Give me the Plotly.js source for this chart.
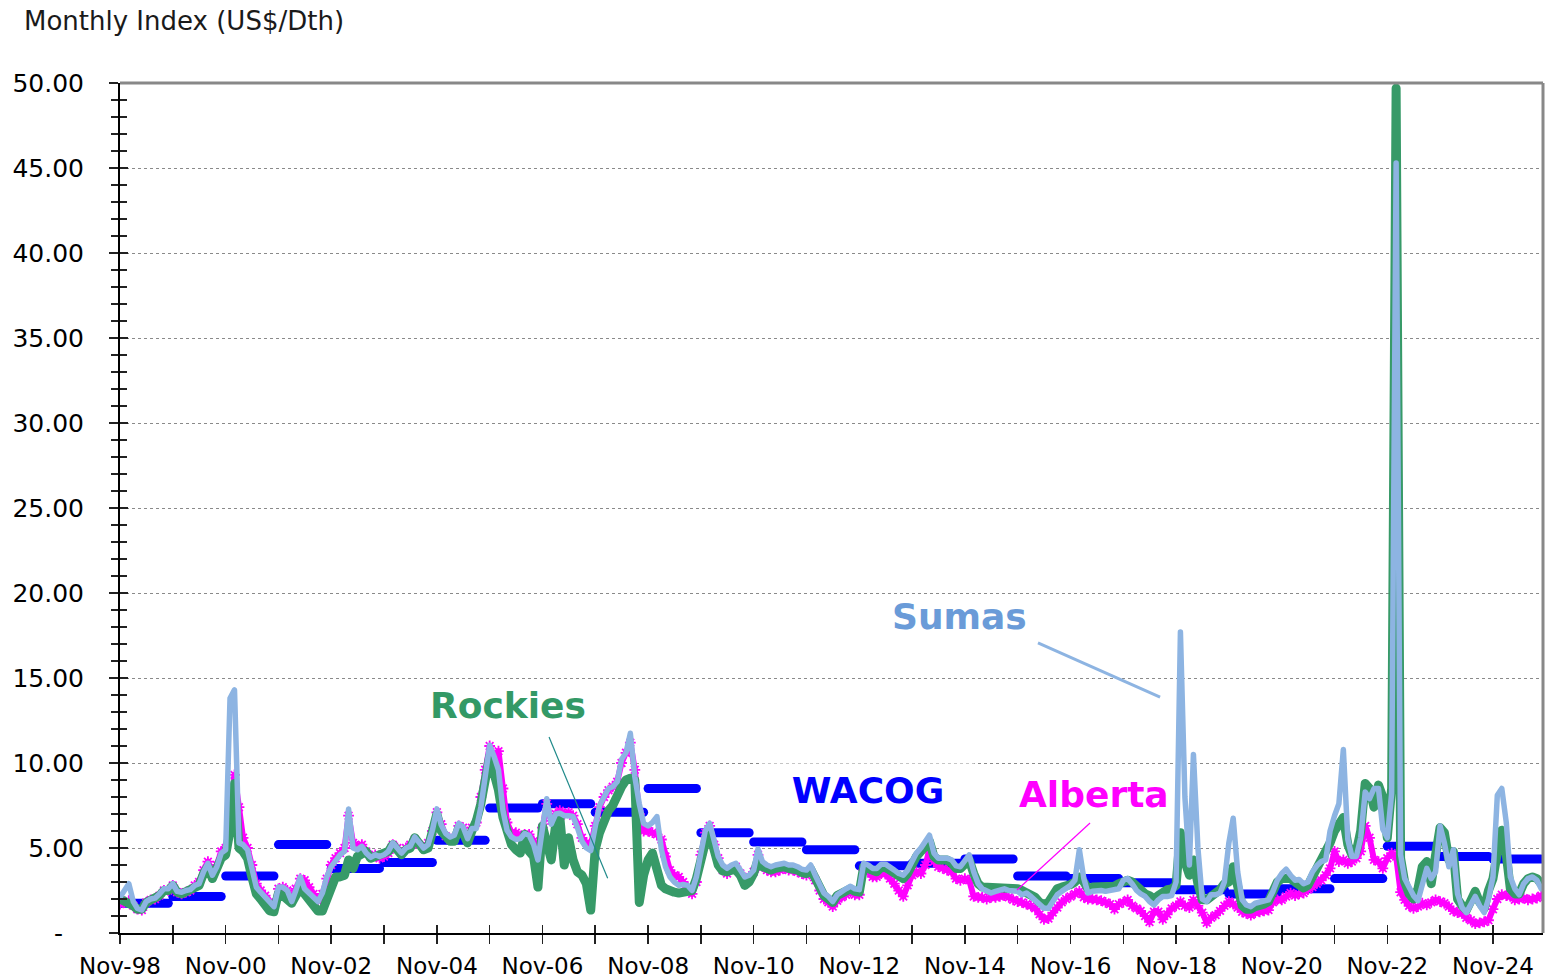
<!DOCTYPE html>
<html><head><meta charset="utf-8">
<script src="https://cdn.plot.ly/plotly-3.0.1.min.js"></script>
<style>
html,body{margin:0;padding:0;background:#fff;}
#chart{width:1557px;height:980px;}
.js-line{stroke-linecap:round !important;stroke-linejoin:round !important;}
</style></head><body><div id="chart"></div><script>
// Monthly index, US$/Dth, Nov-98 .. Oct-25 (one row = Nov..Oct)
const sumas = [
2.1,2.5,2.9,1.85,1.45,1.35,1.85,2.0,2.05,2.3,2.6,2.6,
2.9,2.45,2.4,2.5,2.55,2.8,2.9,3.6,4.1,3.4,3.9,4.7,
4.9,13.8,14.3,5.3,5.2,4.9,3.9,2.7,2.4,2.1,1.75,1.55,
2.7,2.7,2.5,1.85,2.5,3.3,2.6,2.35,2.05,1.85,2.35,3.3,
3.9,4.3,4.6,4.8,7.3,5.0,4.9,5.1,4.7,4.45,4.6,4.5,
4.6,4.8,5.3,5.0,4.7,5.0,5.1,5.65,5.3,5.0,5.2,6.05,
7.3,6.35,5.85,5.65,5.75,6.45,6.25,5.55,6.15,6.15,7.4,9.2,
11.05,10.4,9.6,7.2,6.05,5.65,5.5,5.55,5.85,5.75,5.2,4.3,
6.0,7.9,6.4,7.0,7.05,6.9,6.9,6.85,6.2,5.4,5.0,4.85,
6.25,7.5,8.0,8.5,8.6,8.9,10.2,10.6,11.75,9.2,7.6,6.45,
6.3,6.5,6.85,4.9,3.9,3.3,3.0,2.8,2.85,2.8,2.5,3.3,
4.7,6.0,6.45,5.3,4.5,4.0,3.8,4.0,4.1,3.7,3.3,3.4,
3.7,4.95,4.2,4.0,3.9,4.0,4.05,4.1,4.0,4.0,3.9,3.75,
3.7,4.0,3.4,2.8,2.35,2.15,1.85,2.25,2.45,2.6,2.75,2.6,
2.55,4.1,4.0,3.8,3.8,4.05,4.05,3.9,3.7,3.5,3.4,3.7,
4.3,4.7,5.0,5.4,5.75,4.7,4.4,4.4,4.4,4.3,3.95,3.9,
4.2,4.6,3.6,2.9,2.6,2.5,2.35,2.45,2.5,2.6,2.5,2.45,
2.45,2.25,2.35,2.15,1.95,1.65,1.45,1.45,1.85,2.25,2.45,2.6,
2.8,3.1,4.9,3.2,2.35,2.45,2.5,2.5,2.45,2.5,2.5,2.6,
3.1,3.2,2.9,2.5,2.3,2.15,1.85,1.65,1.95,2.15,2.15,2.2,
3.0,17.7,8.0,4.0,10.5,5.0,2.0,1.85,2.25,2.25,2.35,3.0,
5.3,6.75,3.6,1.95,1.65,1.55,1.75,1.8,1.85,1.95,2.45,3.1,
3.5,3.75,3.4,3.1,3.15,2.9,3.0,3.6,3.95,4.2,4.3,6.0,
6.9,7.6,10.8,5.5,4.5,4.5,5.6,8.3,7.9,8.5,8.5,6.1,
5.6,8.2,45.3,4.6,3.2,2.6,2.2,1.9,3.0,3.8,3.2,3.6,
6.3,5.3,3.9,4.9,2.3,1.5,1.2,1.7,2.15,1.6,1.2,2.0,
3.3,8.1,8.5,6.5,3.3,2.6,2.25,2.9,3.2,3.3,3.1,2.6
];
const rockies = [
2.0,1.9,1.8,1.6,1.4,1.4,1.8,1.9,2.0,2.2,2.5,2.5,
2.8,2.4,2.3,2.4,2.5,2.7,2.8,3.5,3.9,3.2,3.7,4.4,
4.6,6.0,8.8,5.0,4.8,4.4,3.3,2.3,2.0,1.7,1.3,1.25,
2.35,2.2,1.9,1.75,2.2,2.6,2.3,1.9,1.6,1.3,1.3,2.0,
2.9,3.3,3.3,3.4,4.3,3.8,4.5,4.7,4.8,4.4,4.5,4.6,
4.6,4.8,5.2,4.9,4.6,4.9,5.0,5.6,5.2,4.9,5.0,5.8,
7.0,6.0,5.6,5.4,5.4,6.2,5.9,5.3,6.0,6.6,7.6,9.0,
10.4,9.4,8.4,6.8,5.8,5.2,4.9,4.7,5.8,4.8,4.5,2.7,
6.3,5.5,4.3,6.4,6.85,4.0,5.6,4.3,3.6,3.4,2.9,1.35,
4.9,5.9,6.7,7.2,7.5,8.2,8.6,9.0,9.1,9.0,1.8,3.4,
4.3,4.7,3.6,2.8,2.6,2.45,2.4,2.35,2.4,2.5,2.5,3.2,
4.3,5.3,5.85,4.9,4.0,3.65,3.6,3.7,3.7,3.4,2.8,3.0,
3.5,4.3,3.9,3.8,3.7,3.8,3.85,3.9,3.8,3.8,3.7,3.55,
3.5,3.75,3.2,2.6,2.2,2.0,1.8,2.2,2.35,2.5,2.6,2.45,
2.4,3.9,3.8,3.6,3.6,3.85,3.85,3.7,3.5,3.3,3.2,3.5,
4.1,4.5,4.8,5.1,5.4,4.5,4.3,4.3,4.3,4.1,3.8,3.8,
4.0,4.3,3.5,2.9,2.7,2.7,2.6,2.65,2.7,2.7,2.65,2.6,
2.6,2.5,2.4,2.3,2.1,1.8,1.7,1.8,2.3,2.6,2.7,2.75,
2.85,3.0,3.3,3.0,2.6,2.7,2.7,2.75,2.75,2.7,2.75,2.9,
3.0,3.1,3.0,2.7,2.5,2.3,2.2,2.0,2.2,2.45,2.55,2.6,
2.8,5.9,4.2,3.4,4.3,2.9,1.95,1.95,2.1,2.3,2.55,2.9,
3.0,3.9,2.6,1.6,1.4,1.4,1.55,1.6,1.7,1.85,2.4,3.0,
3.2,3.2,3.2,3.0,2.8,2.65,2.8,3.3,3.7,4.1,4.6,5.3,
6.0,6.4,6.8,5.2,4.6,4.8,6.0,8.8,8.5,7.4,8.7,8.0,
5.6,8.5,49.7,4.4,3.0,2.3,2.0,2.6,3.9,4.2,2.9,4.6,
6.2,5.9,4.3,4.8,2.0,1.6,1.35,1.9,2.45,1.8,1.45,2.5,
3.2,4.7,6.05,4.6,2.6,2.3,2.3,2.9,3.2,3.3,3.2,2.9
];
const alberta = [
1.7,1.8,1.9,1.6,1.4,1.35,1.8,1.95,2.0,2.2,2.5,2.5,
2.8,2.4,2.3,2.4,2.5,2.8,3.0,3.7,4.2,3.6,4.0,4.8,
5.0,6.5,9.3,7.4,5.6,5.0,4.0,2.9,2.5,2.2,1.8,1.6,
2.6,2.7,2.5,2.0,2.6,3.2,3.1,2.7,2.3,1.9,2.3,3.2,
4.0,4.4,4.7,5.0,6.9,5.3,5.1,5.2,4.8,4.5,4.6,4.4,
4.5,4.7,5.2,5.0,4.7,5.0,5.2,5.5,5.2,5.0,5.3,6.0,
7.1,6.4,5.7,5.5,5.6,6.3,6.2,5.6,6.2,6.5,8.0,9.6,
11.0,10.4,10.7,8.5,6.5,5.9,5.9,5.7,5.8,5.8,5.4,4.6,
6.2,7.6,6.6,7.0,7.2,7.0,7.1,6.9,6.4,5.6,5.3,5.2,
6.3,7.4,8.0,8.4,8.6,8.9,10.0,10.6,11.2,9.6,7.0,6.0,
6.0,5.9,5.8,5.5,4.5,3.7,3.4,3.3,3.0,2.7,2.3,3.0,
4.6,5.9,6.3,5.2,4.4,3.7,3.5,3.8,3.9,3.5,3.1,3.3,
3.6,4.6,3.9,3.7,3.6,3.6,3.7,3.8,3.7,3.7,3.6,3.5,
3.4,3.6,3.1,2.5,2.0,1.8,1.55,1.9,2.1,2.25,2.4,2.25,
2.25,3.7,3.6,3.3,3.3,3.5,3.5,3.2,2.9,2.5,2.15,2.8,
3.4,3.6,3.5,4.0,4.9,4.2,3.9,3.8,3.7,3.6,3.2,3.1,
3.2,3.1,2.15,2.1,2.1,2.0,2.1,2.1,2.15,2.2,2.1,1.95,
1.85,1.8,1.7,1.6,1.45,1.1,0.8,0.85,1.2,1.5,1.8,2.0,
2.15,2.3,2.45,2.1,2.0,2.0,1.95,1.9,1.8,1.7,1.4,1.7,
1.8,1.95,1.6,1.45,1.3,1.0,0.65,1.25,1.25,0.8,1.1,1.45,
1.6,1.85,1.6,1.5,1.95,1.6,1.2,0.6,0.9,1.05,1.3,1.6,
1.85,1.7,1.5,1.25,1.15,1.05,1.2,1.25,1.3,1.35,1.8,1.95,
1.95,2.15,2.35,2.2,2.3,2.35,2.55,2.7,2.9,3.1,3.4,3.8,
4.8,4.2,4.3,4.1,4.2,4.4,4.8,6.3,5.6,4.3,4.2,3.8,
4.4,4.7,4.5,2.4,1.95,1.6,1.45,1.55,1.75,1.65,1.8,1.95,
1.85,1.75,1.55,1.3,1.2,1.15,0.9,0.75,0.55,0.6,0.65,0.75,
1.4,2.0,2.25,2.2,2.15,1.95,2.0,2.05,1.95,2.0,2.05,2.2
];
// WACOG, one value per gas year (Nov..Oct), 1998/99 .. 2024/25
const wacog = [1.75,2.15,3.35,5.2,3.8,4.15,5.45,7.35,7.6,7.1,8.5,5.9,5.35,4.9,3.95,4.1,4.35,3.35,3.2,2.95,2.55,2.3,2.6,3.2,5.1,4.5,4.35];

const startYear = 1998, startMonth = 11; // first month: Nov-98
const yTickVals = [0,5,10,15,20,25,30,35,40,45,50];
const yTickText = ['-\u00a0\u00a0\u2009','5.00','10.00','15.00','20.00','25.00','30.00','35.00','40.00','45.00','50.00'];

function monthDate(m){
  const t = (startMonth-1) + m;
  const y = startYear + Math.floor(t/12);
  const mo = t % 12 + 1;
  return y + '-' + String(mo).padStart(2,'0') + '-01';
}
const months = sumas.map((_,i)=>monthDate(i));
const wx = [], wy = [];
wacog.forEach((v,i)=>{ wx.push(monthDate(12*i), monthDate(12*i+11), null); wy.push(v, v, null); });

const FONT = 'DejaVu Sans, Verdana, sans-serif';
const C_SUMAS = '#8DB4E2', C_ROCK = '#379A68', C_ALB = '#FF00FF', C_WAC = '#0000FF';

const traces = [
  {x:wx, y:wy, mode:'lines', line:{color:C_WAC, width:9}, connectgaps:false, hoverinfo:'skip'},
  {x:months, y:alberta, mode:'lines+markers', line:{color:C_ALB, width:6},
   marker:{symbol:'asterisk-open', size:9, color:C_ALB, line:{color:C_ALB, width:1.8}}, hoverinfo:'skip'},
  {x:months, y:rockies, mode:'lines', line:{color:C_ROCK, width:9}, hoverinfo:'skip'},
  {x:months, y:sumas, mode:'lines', line:{color:C_SUMAS, width:5.5}, hoverinfo:'skip'},
  {x:[], y:[], xaxis:'x2', yaxis:'y2', mode:'lines', hoverinfo:'skip'}
];

const xRange = ['1998-11-01','2025-10-13'];
const tickCommon = {tickwidth:1.5, tickcolor:'#222'};
const layout = {
  width:1557, height:980,
  margin:{l:120, r:14, t:83, b:47},
  paper_bgcolor:'#fff', plot_bgcolor:'#fff', showlegend:false,
  xaxis:Object.assign({type:'date', range:xRange, tickformat:'%b-%y', tick0:'1998-11-01', dtick:'M24',
    ticks:'outside', ticklen:9,
    minor:{tick0:'1998-11-01', dtick:'M12', ticks:'outside', ticklen:9, tickwidth:1.5, tickcolor:'#222', showgrid:false},
    showgrid:false, zeroline:false, showline:true, linecolor:'#000', linewidth:2,
    tickfont:{family:FONT, size:23, color:'#000'}, ticklabelstandoff:2}, tickCommon),
  yaxis:Object.assign({range:[0,50], tickmode:'array', tickvals:yTickVals, ticktext:yTickText,
    ticks:'outside', ticklen:9,
    minor:{tick0:0, dtick:1, ticks:'outside', ticklen:7, tickwidth:1.3, tickcolor:'#222', showgrid:false},
    showgrid:true, gridcolor:'#8a8a8a', griddash:'dot', gridwidth:1, zeroline:false,
    showline:true, linecolor:'#000', linewidth:2,
    tickfont:{family:FONT, size:25, color:'#000'}, ticklabelstandoff:20}, tickCommon),
  xaxis2:Object.assign({type:'date', range:xRange, overlaying:'x', anchor:'y2', tick0:'1998-11-01', dtick:'M24',
    ticks:'inside', ticklen:8, showticklabels:false, showgrid:false, zeroline:false, showline:false,
    minor:{tick0:'1998-11-01', dtick:'M12', ticks:'inside', ticklen:8, tickwidth:1.5, tickcolor:'#222'}}, tickCommon),
  yaxis2:Object.assign({range:[0,50], overlaying:'y', anchor:'x2', side:'left', tickmode:'array', tickvals:yTickVals,
    ticks:'inside', ticklen:8, showticklabels:false, showgrid:false, zeroline:false, showline:false,
    minor:{tick0:0, dtick:1, ticks:'inside', ticklen:7, tickwidth:1.3, tickcolor:'#222'}}, tickCommon),
  shapes:[
    {type:'line', xref:'paper', yref:'paper', x0:0, x1:1, y0:1, y1:1, line:{color:'#888', width:3}, layer:'above'},
    {type:'line', xref:'paper', yref:'paper', x0:1, x1:1, y0:0, y1:1, line:{color:'#888', width:3}, layer:'above'},
    {type:'line', xref:'paper', yref:'paper', x0:0.6451, y0:0.3412, x1:0.7309, y1:0.2776, line:{color:C_SUMAS, width:3}, layer:'above'},
    {type:'line', xref:'paper', yref:'paper', x0:0.3015, y0:0.2306, x1:0.3427, y1:0.0644, line:{color:'#1f8a8a', width:1.2}, layer:'above'},
    {type:'line', xref:'paper', yref:'paper', x0:0.6817, y0:0.1294, x1:0.6304, y1:0.0506, line:{color:C_ALB, width:1.2}, layer:'above'}
  ],
  annotations:[
    {text:'Monthly Index (US$/Dth)', xref:'paper', yref:'paper', x:-0.0689, y:1.073, xanchor:'left', yanchor:'middle',
     showarrow:false, font:{family:FONT, size:26, color:'#1a1a1a'}},
    {text:'<b>Sumas</b>', xref:'paper', yref:'paper', x:0.5903, y:0.3718, xanchor:'center', yanchor:'middle',
     showarrow:false, font:{family:FONT, size:36, color:'#6a9bd8'}},
    {text:'<b>Rockies</b>', xref:'paper', yref:'paper', x:0.2727, y:0.2671, xanchor:'center', yanchor:'middle',
     showarrow:false, font:{family:FONT, size:36, color:'#339966'}},
    {text:'<b>WACOG</b>', xref:'paper', yref:'paper', x:0.5257, y:0.1671, xanchor:'center', yanchor:'middle',
     showarrow:false, bgcolor:'#fff', width:200, borderpad:6, font:{family:FONT, size:36, color:C_WAC}},
    {text:'<b>Alberta</b>', xref:'paper', yref:'paper', x:0.6845, y:0.1624, xanchor:'center', yanchor:'middle',
     showarrow:false, font:{family:FONT, size:36, color:C_ALB}}
  ]
};
Plotly.newPlot('chart', traces, layout, {staticPlot:true, displayModeBar:false});
</script></body></html>
